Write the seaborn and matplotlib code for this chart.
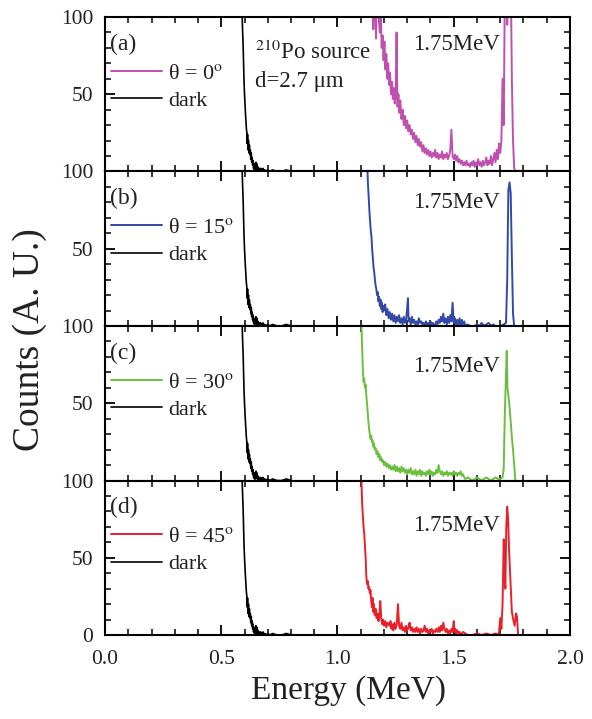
import matplotlib
matplotlib.use("Agg")
import numpy as np
import pandas as pd
import matplotlib.pyplot as plt
import seaborn as sns
from matplotlib.ticker import MultipleLocator, FormatStrFormatter

# ---------------- data (Energy in MeV, Counts in A.U.) ----------------
panel_tags = ["(a)", "(b)", "(c)", "(d)"]
angle_labels = ["θ = 0$^{\\mathrm{o}}$", "θ = 15$^{\\mathrm{o}}$",
                "θ = 30$^{\\mathrm{o}}$", "θ = 45$^{\\mathrm{o}}$"]
peak_label = "1.75MeV"
x_ticks = [0.0, 0.5, 1.0, 1.5, 2.0]
y_ticks = [0, 50, 100]

dark = [(0.588, 130), (0.590, 100), (0.592, 90), (0.594, 82), (0.596, 70), (0.598, 58),
        (0.600, 50), (0.602, 44), (0.604, 38), (0.606, 33), (0.608, 28), (0.610, 25),
        (0.612, 18), (0.613, 24), (0.615, 14), (0.617, 20), (0.619, 12), (0.621, 17),
        (0.623, 11), (0.625, 14), (0.627, 8), (0.629, 12), (0.631, 6), (0.633, 9),
        (0.635, 4), (0.637, 7), (0.639, 2), (0.641, 5), (0.643, 1), (0.645, 4),
        (0.647, 1), (0.649, 6), (0.651, 2), (0.653, 5), (0.655, 1), (0.658, 3),
        (0.661, 0), (0.664, 2), (0.667, 1), (0.670, 2), (0.673, 0), (0.676, 1),
        (0.680, 2), (0.684, 0), (0.688, 1), (0.692, 0), (0.700, 1), (0.710, 0),
        (0.720, 1), (0.740, 0), (0.760, 0), (0.780, 1), (0.800, 0)]

theta0 = [(1.150, 140), (1.154, 92), (1.158, 130), (1.162, 108), (1.166, 86), (1.170, 125),
          (1.174, 140), (1.178, 98), (1.182, 90), (1.186, 104), (1.190, 80), (1.194, 88),
          (1.198, 72), (1.202, 84), (1.206, 66), (1.210, 76), (1.214, 60), (1.218, 70),
          (1.222, 56), (1.226, 64), (1.230, 50), (1.234, 58), (1.238, 47), (1.242, 54),
          (1.246, 44), (1.250, 48), (1.254, 90), (1.258, 42), (1.262, 50), (1.266, 38),
          (1.270, 46), (1.275, 34), (1.280, 40), (1.285, 30), (1.290, 36), (1.295, 28),
          (1.300, 33), (1.305, 26), (1.310, 30), (1.315, 24), (1.320, 27), (1.325, 21),
          (1.330, 25), (1.335, 19), (1.340, 23), (1.345, 17), (1.350, 21), (1.355, 16),
          (1.360, 19), (1.365, 13), (1.370, 17), (1.375, 12), (1.380, 15), (1.385, 11),
          (1.390, 14), (1.395, 10), (1.400, 13), (1.405, 9), (1.410, 12), (1.415, 10),
          (1.420, 14), (1.425, 9), (1.430, 12), (1.435, 8), (1.440, 11), (1.445, 9),
          (1.450, 13), (1.455, 8), (1.460, 11), (1.465, 9), (1.470, 12), (1.475, 8),
          (1.480, 10), (1.485, 14), (1.490, 27), (1.495, 10), (1.500, 8), (1.505, 11),
          (1.510, 7), (1.515, 10), (1.520, 6), (1.525, 8), (1.530, 5), (1.535, 7),
          (1.540, 4), (1.545, 6), (1.550, 4), (1.555, 7), (1.560, 4), (1.565, 5),
          (1.570, 3), (1.575, 6), (1.580, 4), (1.585, 7), (1.590, 3), (1.595, 6),
          (1.600, 4), (1.605, 8), (1.610, 4), (1.615, 6), (1.620, 3), (1.625, 7),
          (1.630, 4), (1.635, 6), (1.640, 9), (1.645, 4), (1.650, 7), (1.655, 5),
          (1.660, 10), (1.665, 4), (1.670, 8), (1.675, 12), (1.680, 6), (1.685, 14),
          (1.690, 8), (1.695, 18), (1.700, 12), (1.705, 20), (1.710, 60), (1.715, 30),
          (1.720, 120), (1.725, 140), (1.730, 95), (1.735, 140), (1.740, 110), (1.745, 130),
          (1.750, 60), (1.755, 20), (1.760, 2), (1.765, 0), (1.800, 0), (1.900, 0), (2.000, 0)]

theta15 = [(1.125, 130), (1.128, 105), (1.131, 92), (1.134, 84), (1.137, 75), (1.140, 68),
           (1.143, 62), (1.146, 58), (1.149, 50), (1.152, 44), (1.155, 38), (1.158, 35),
           (1.161, 30), (1.164, 26), (1.167, 24), (1.170, 20), (1.173, 22), (1.176, 16),
           (1.179, 19), (1.182, 13), (1.185, 17), (1.188, 11), (1.191, 15), (1.194, 9),
           (1.197, 13), (1.200, 10), (1.205, 14), (1.210, 7), (1.215, 11), (1.220, 5),
           (1.225, 9), (1.230, 4), (1.235, 8), (1.240, 3), (1.245, 7), (1.250, 2),
           (1.255, 6), (1.260, 3), (1.265, 7), (1.270, 2), (1.275, 5), (1.280, 1),
           (1.285, 6), (1.290, 2), (1.295, 4), (1.300, 12), (1.303, 18), (1.306, 3),
           (1.310, 5), (1.315, 1), (1.320, 6), (1.325, 2), (1.330, 4), (1.335, 1),
           (1.340, 3), (1.345, 1), (1.350, 5), (1.355, 2), (1.360, 3), (1.365, 1),
           (1.370, 2), (1.375, 0), (1.380, 3), (1.385, 1), (1.390, 2), (1.395, 0),
           (1.400, 3), (1.405, 1), (1.410, 2), (1.415, 0), (1.420, 1), (1.425, 3),
           (1.430, 1), (1.435, 4), (1.440, 2), (1.445, 6), (1.450, 3), (1.455, 8),
           (1.460, 2), (1.465, 5), (1.470, 1), (1.475, 6), (1.480, 2), (1.485, 7),
           (1.490, 3), (1.495, 15), (1.500, 2), (1.505, 5), (1.510, 1), (1.515, 4),
           (1.520, 0), (1.525, 5), (1.530, 1), (1.535, 4), (1.540, 0), (1.545, 3),
           (1.550, 0), (1.560, 1), (1.570, 0), (1.580, 0), (1.590, 0), (1.600, 1),
           (1.610, 0), (1.620, 2), (1.630, 0), (1.640, 1), (1.650, 2), (1.660, 0),
           (1.670, 1), (1.680, 0), (1.700, 0), (1.715, 1), (1.725, 2), (1.730, 30),
           (1.735, 88), (1.740, 93), (1.745, 86), (1.750, 45), (1.755, 8), (1.760, 0)]

theta30 = [(1.100, 130), (1.103, 100), (1.106, 85), (1.109, 72), (1.112, 64), (1.115, 66),
           (1.118, 60), (1.121, 62), (1.124, 55), (1.127, 50), (1.130, 44), (1.133, 38),
           (1.136, 33), (1.139, 30), (1.142, 27), (1.145, 29), (1.148, 25), (1.151, 26),
           (1.154, 22), (1.157, 24), (1.160, 20), (1.164, 21), (1.168, 17), (1.172, 19),
           (1.176, 15), (1.180, 17), (1.184, 13), (1.188, 15), (1.192, 12), (1.196, 13),
           (1.200, 10), (1.205, 12), (1.210, 9), (1.215, 11), (1.220, 8), (1.225, 10),
           (1.230, 7), (1.235, 9), (1.240, 7), (1.245, 10), (1.250, 6), (1.255, 9),
           (1.260, 6), (1.265, 8), (1.270, 5), (1.275, 9), (1.280, 6), (1.285, 8),
           (1.290, 5), (1.295, 7), (1.300, 4), (1.305, 7), (1.310, 5), (1.315, 8),
           (1.320, 4), (1.325, 6), (1.330, 4), (1.335, 7), (1.340, 3), (1.345, 6),
           (1.350, 4), (1.355, 7), (1.360, 3), (1.365, 6), (1.370, 4), (1.375, 5),
           (1.380, 3), (1.385, 6), (1.390, 4), (1.395, 7), (1.400, 4), (1.405, 6),
           (1.410, 3), (1.415, 5), (1.420, 4), (1.425, 7), (1.430, 5), (1.435, 10),
           (1.440, 6), (1.445, 4), (1.450, 6), (1.455, 3), (1.460, 5), (1.465, 4),
           (1.470, 6), (1.475, 3), (1.480, 5), (1.485, 4), (1.490, 5), (1.495, 3),
           (1.500, 6), (1.505, 4), (1.510, 5), (1.515, 3), (1.520, 5), (1.525, 4),
           (1.530, 6), (1.535, 3), (1.540, 4), (1.545, 2), (1.550, 1), (1.560, 2),
           (1.570, 1), (1.580, 0), (1.590, 1), (1.600, 2), (1.610, 1), (1.620, 0),
           (1.630, 1), (1.640, 2), (1.650, 1), (1.660, 0), (1.670, 1), (1.680, 2),
           (1.690, 1), (1.700, 1), (1.710, 2), (1.715, 8), (1.720, 45), (1.725, 70),
           (1.728, 84), (1.731, 60), (1.735, 55), (1.740, 48), (1.745, 38), (1.750, 28),
           (1.755, 20), (1.760, 10), (1.765, 0)]

theta45 = [(1.100, 130), (1.103, 100), (1.106, 85), (1.109, 78), (1.112, 70), (1.115, 66),
           (1.118, 58), (1.121, 50), (1.124, 38), (1.127, 33), (1.130, 35), (1.133, 30),
           (1.136, 31), (1.139, 27), (1.142, 29), (1.145, 22), (1.148, 18), (1.151, 24),
           (1.154, 15), (1.157, 20), (1.160, 13), (1.164, 17), (1.168, 11), (1.172, 14),
           (1.176, 9), (1.180, 12), (1.184, 22), (1.188, 11), (1.192, 7), (1.196, 10),
           (1.200, 6), (1.205, 9), (1.210, 5), (1.215, 8), (1.220, 7), (1.224, 6),
           (1.228, 9), (1.232, 4), (1.236, 7), (1.240, 3), (1.245, 8), (1.250, 4),
           (1.255, 7), (1.260, 20), (1.265, 6), (1.270, 4), (1.275, 8), (1.280, 3),
           (1.285, 5), (1.290, 2), (1.295, 6), (1.300, 3), (1.305, 5), (1.310, 8),
           (1.315, 3), (1.320, 5), (1.325, 2), (1.330, 4), (1.335, 2), (1.340, 5),
           (1.345, 2), (1.350, 4), (1.355, 1), (1.360, 4), (1.365, 2), (1.370, 3),
           (1.375, 6), (1.380, 2), (1.385, 4), (1.390, 1), (1.395, 3), (1.400, 2),
           (1.405, 4), (1.410, 1), (1.415, 3), (1.420, 2), (1.425, 4), (1.430, 2),
           (1.435, 5), (1.440, 2), (1.445, 6), (1.450, 3), (1.455, 8), (1.460, 4),
           (1.465, 2), (1.470, 4), (1.475, 1), (1.480, 3), (1.485, 1), (1.490, 4),
           (1.495, 2), (1.500, 9), (1.503, 2), (1.507, 4), (1.510, 1), (1.515, 3),
           (1.520, 1), (1.525, 2), (1.530, 0), (1.540, 2), (1.550, 1), (1.560, 0),
           (1.580, 0), (1.600, 1), (1.620, 0), (1.640, 1), (1.660, 0), (1.680, 1),
           (1.690, 0), (1.695, 2), (1.700, 11), (1.705, 4), (1.710, 20), (1.715, 62),
           (1.719, 40), (1.722, 30), (1.726, 70), (1.730, 83), (1.734, 75), (1.738, 55),
           (1.742, 42), (1.746, 28), (1.750, 15), (1.756, 10), (1.762, 6), (1.768, 14),
           (1.772, 12), (1.777, 0)]

signals = [theta0, theta15, theta30, theta45]
colors = ["#BF50AE", "#3349A8", "#6CBF3E", "#E8202A"]
peak_label_y = [82, 80, 74, 71]

# ---------------- style ----------------
sns.set_theme(style="ticks")
plt.rcParams["font.family"] = ["Liberation Serif", "DejaVu Serif"]
plt.rcParams["mathtext.fontset"] = "stix"
plt.rcParams["axes.edgecolor"] = "black"
plt.rcParams["axes.linewidth"] = 1.5

fig, axes = plt.subplots(4, 1, figsize=(5.92, 7.19), dpi=100, sharex=True)
fig.subplots_adjust(left=0.1774, right=0.9628, top=0.9764, bottom=0.1168, hspace=0)

for i, ax in enumerate(axes):
    sig = pd.DataFrame(signals[i], columns=["Energy", "Counts"])
    drk = pd.DataFrame(dark, columns=["Energy", "Counts"])
    sns.lineplot(data=sig, x="Energy", y="Counts", ax=ax, color=colors[i], lw=1.4,
                 sort=False, estimator=None, label=angle_labels[i])
    sns.lineplot(data=drk, x="Energy", y="Counts", ax=ax, color="black", lw=1.2,
                 sort=False, estimator=None, label="dark")
    ax.set_xlim(0, 2.0)
    ax.set_ylim(0, 100)
    ax.set_xlabel("")
    ax.set_ylabel("")
    ax.set_xticks(x_ticks)
    ax.xaxis.set_major_formatter(FormatStrFormatter("%.1f"))
    ax.xaxis.set_minor_locator(MultipleLocator(0.1))
    ax.set_yticks(y_ticks)
    if i < 3:
        ax.set_yticklabels(["", "50", "100"])
    else:
        ax.set_yticklabels(["0", "50", "100"])
    ax.yaxis.set_minor_locator(MultipleLocator(10))
    ax.tick_params(which="both", direction="in", top=True, right=True,
                   color="black", labelsize=15.5, labelcolor="#222222")
    ax.tick_params(which="major", length=7, width=1.3)
    ax.tick_params(which="minor", length=4, width=1.1)
    ax.tick_params(axis="x", pad=11)
    ax.tick_params(axis="y", pad=8.5)
    leg = ax.legend(loc="center left", bbox_to_anchor=(0.012, 0.547), frameon=False,
                    fontsize=16, handlelength=2.3, handletextpad=0.3, borderpad=0,
                    borderaxespad=0, labelspacing=0.3)
    for t in leg.get_texts():
        t.set_color("#222222")
    ax.text(0.011, 0.825, panel_tags[i], transform=ax.transAxes, fontsize=17,
            ha="left", va="center", color="#222222")
    ax.text(1.70, peak_label_y[i], peak_label, fontsize=16.5, ha="right",
            va="center", color="#222222")

axes[0].text(0.645, 77, "$^{210}$Po source", fontsize=16.5, ha="left", va="center",
             color="#222222")
axes[0].text(0.645, 58, "d=2.7 μm", fontsize=16.5, ha="left", va="center",
             color="#222222")

fig.text(0.05, 0.527, "Counts (A. U.)", rotation=90, fontsize=27, ha="center",
         va="center", color="#222222")
fig.text(0.588, 0.04, "Energy (MeV)", fontsize=24, ha="center", va="center",
         color="#222222")

fig.savefig("out.png", dpi=100)
